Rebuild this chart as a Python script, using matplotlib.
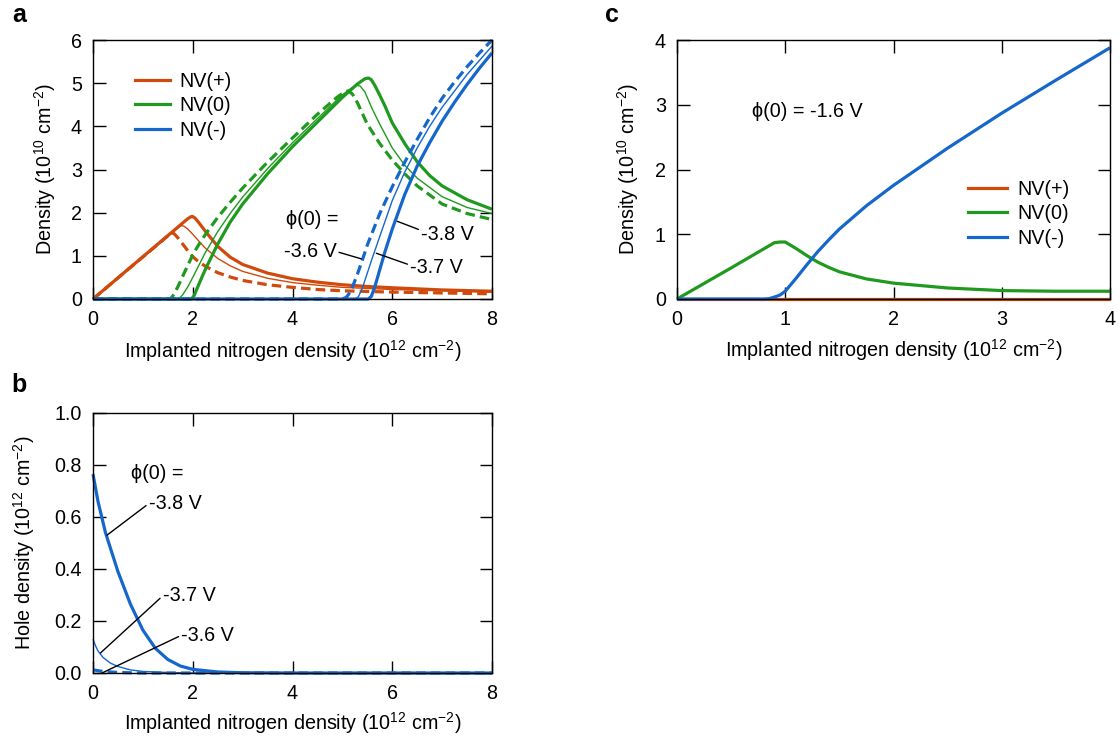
import matplotlib
matplotlib.use('Agg')
import matplotlib.pyplot as plt
from matplotlib.ticker import FormatStrFormatter

plt.rcParams['font.family'] = ['Liberation Sans', 'DejaVu Sans']
plt.rcParams['mathtext.fontset'] = 'custom'
plt.rcParams['mathtext.rm'] = 'Liberation Sans'
plt.rcParams['mathtext.it'] = 'Liberation Sans:italic'
plt.rcParams['mathtext.bf'] = 'Liberation Sans:bold'

# ---------------- data: panel a ----------------
# phi(0) = -3.8 V (thick solid)
a38_pos_x = [0, 1.9, 1.97, 2.0, 2.05, 2.1, 2.2, 2.3, 2.5, 2.75, 3.0, 3.5, 4.0, 4.5, 5.0, 5.5, 6.0, 7.0, 8.0]
a38_pos_y = [0, 1.86, 1.91, 1.91, 1.87, 1.80, 1.65, 1.50, 1.22, 0.97, 0.80, 0.60, 0.47, 0.39, 0.33, 0.29, 0.26, 0.21, 0.18]
a38_zero_x = [0, 1.97, 2.02, 2.1, 2.2, 2.3, 2.5, 2.75, 3.0, 3.5, 4.0, 4.5, 5.0, 5.3, 5.45, 5.52, 5.58, 5.65, 5.75, 5.85, 6.0, 6.25, 6.5, 6.75, 7.0, 7.5, 8.0]
a38_zero_y = [0, 0, 0.06, 0.28, 0.55, 0.8, 1.27, 1.78, 2.2, 2.9, 3.53, 4.1, 4.67, 4.98, 5.1, 5.12, 5.08, 4.95, 4.72, 4.48, 4.08, 3.6, 3.18, 2.86, 2.62, 2.3, 2.08]
a38_neg_x = [0, 5.52, 5.58, 5.65, 5.75, 5.85, 6.0, 6.25, 6.5, 6.75, 7.0, 7.25, 7.5, 7.75, 8.0]
a38_neg_y = [0, 0, 0.06, 0.28, 0.68, 1.08, 1.62, 2.42, 3.08, 3.62, 4.12, 4.56, 4.97, 5.35, 5.7]

# phi(0) = -3.7 V (thin solid)
a37_pos_x = [0, 1.7, 1.76, 1.82, 1.9, 2.0, 2.1, 2.25, 2.5, 2.75, 3.0, 3.5, 4.0, 4.5, 5.0, 6.0, 7.0, 8.0]
a37_pos_y = [0, 1.64, 1.70, 1.69, 1.62, 1.50, 1.37, 1.18, 0.94, 0.77, 0.64, 0.48, 0.38, 0.32, 0.27, 0.22, 0.19, 0.16]
a37_zero_x = [0, 1.72, 1.8, 1.9, 2.0, 2.1, 2.25, 2.5, 2.75, 3.0, 3.5, 4.0, 4.5, 5.0, 5.2, 5.3, 5.36, 5.45, 5.6, 5.75, 6.0, 6.25, 6.5, 7.0, 7.5, 8.0]
a37_zero_y = [0, 0, 0.1, 0.28, 0.5, 0.73, 1.07, 1.56, 1.98, 2.36, 3.02, 3.62, 4.18, 4.73, 4.9, 4.95, 4.93, 4.8, 4.4, 4.05, 3.5, 3.1, 2.8, 2.37, 2.12, 1.98]
a37_neg_x = [0, 5.25, 5.32, 5.4, 5.5, 5.6, 5.75, 6.0, 6.25, 6.5, 6.75, 7.0, 7.5, 8.0]
a37_neg_y = [0, 0, 0.05, 0.25, 0.6, 0.95, 1.45, 2.28, 2.94, 3.5, 4.0, 4.44, 5.2, 5.86]

# phi(0) = -3.6 V (thick dashed)
a36_pos_x = [0, 1.52, 1.57, 1.62, 1.7, 1.8, 1.9, 2.0, 2.1, 2.25, 2.5, 2.75, 3.0, 3.5, 4.0, 4.5, 5.0, 6.0, 7.0, 8.0]
a36_pos_y = [0, 1.48, 1.53, 1.52, 1.42, 1.27, 1.12, 0.98, 0.88, 0.76, 0.61, 0.51, 0.43, 0.33, 0.27, 0.22, 0.19, 0.16, 0.14, 0.12]
a36_zero_x = [0, 1.55, 1.6, 1.7, 1.8, 1.9, 2.0, 2.1, 2.25, 2.5, 2.75, 3.0, 3.5, 4.0, 4.5, 4.9, 5.05, 5.12, 5.2, 5.3, 5.4, 5.5, 5.75, 6.0, 6.25, 6.5, 7.0, 7.5, 8.0]
a36_zero_y = [0, 0, 0.07, 0.28, 0.53, 0.78, 1.02, 1.22, 1.49, 1.89, 2.24, 2.57, 3.17, 3.73, 4.28, 4.68, 4.8, 4.82, 4.75, 4.55, 4.3, 4.05, 3.6, 3.22, 2.9, 2.62, 2.2, 1.98, 1.84]
a36_neg_x = [0, 5.0, 5.08, 5.15, 5.2, 5.3, 5.4, 5.5, 5.75, 6.0, 6.25, 6.5, 6.75, 7.0, 7.25, 7.5, 7.75, 8.0]
a36_neg_y = [0, 0, 0.04, 0.15, 0.27, 0.57, 0.9, 1.25, 1.98, 2.6, 3.17, 3.7, 4.2, 4.65, 5.03, 5.38, 5.7, 6.0]

# ---------------- data: panel b (hole density) ----------------
b38_x = [0, 0.1, 0.25, 0.5, 0.75, 1.0, 1.25, 1.5, 1.75, 2.0, 2.5, 3.0, 4.0, 8.0]
b38_y = [0.765, 0.66, 0.54, 0.39, 0.265, 0.165, 0.095, 0.052, 0.027, 0.014, 0.004, 0.001, 0, 0]
b37_x = [0, 0.05, 0.1, 0.2, 0.35, 0.5, 0.75, 1.0, 1.5, 2.0, 8.0]
b37_y = [0.13, 0.105, 0.085, 0.06, 0.038, 0.025, 0.012, 0.006, 0.002, 0, 0]
b36_x = [0, 0.2, 0.5, 1.0, 8.0]
b36_y = [0.012, 0.006, 0.002, 0, 0]

# ---------------- data: panel c (phi(0) = -1.6 V) ----------------
c_pos_x = [0, 4.0]
c_pos_y = [0, 0]
c_zero_x = [0, 0.5, 0.9, 0.95, 1.0, 1.1, 1.2, 1.3, 1.4, 1.5, 1.75, 2.0, 2.5, 3.0, 3.5, 4.0]
c_zero_y = [0, 0.48, 0.87, 0.88, 0.88, 0.78, 0.67, 0.57, 0.49, 0.42, 0.31, 0.245, 0.17, 0.13, 0.12, 0.12]
c_neg_x = [0, 0.8, 0.85, 0.9, 0.95, 1.0, 1.1, 1.2, 1.3, 1.4, 1.5, 1.75, 2.0, 2.5, 3.0, 3.5, 4.0]
c_neg_y = [0, 0, 0.005, 0.03, 0.06, 0.12, 0.32, 0.53, 0.73, 0.91, 1.08, 1.44, 1.755, 2.33, 2.87, 3.38, 3.88]

legend_labels = ['NV(+)', 'NV(0)', 'NV(-)']
xlabel = 'Implanted nitrogen density (10$^{12}$ cm$^{-2}$)'

ORANGE = '#D04A0C'
GREEN = '#1F9A1F'
BLUE = '#1567CC'
FS = 14.2
THICK = 2.3
THIN = 1.0
DASH = (0, (3.0, 1.6))

fig = plt.figure(figsize=(11.2, 7.42), dpi=100)
W, H = 1120, 742
axa = fig.add_axes([93 / W, 1 - 299 / H, 399 / W, 259 / H])
axb = fig.add_axes([93 / W, 1 - 673 / H, 399 / W, 260 / H])
axc = fig.add_axes([677 / W, 1 - 299 / H, 433 / W, 259 / H])


def style(ax):
    ax.tick_params(direction='in', top=True, right=True, length=9, width=1,
                   labelsize=FS, pad=8, colors='black')
    for s in ax.spines.values():
        s.set_linewidth(1)


def line(ax, x, y, c, lw, ls='-'):
    ax.plot(x, y, color=c, lw=lw, ls=ls, clip_on=False, solid_capstyle='butt')


# ---- panel a ----
style(axa)
line(axa, a36_pos_x, a36_pos_y, ORANGE, THICK, DASH)
line(axa, a37_pos_x, a37_pos_y, ORANGE, THIN)
line(axa, a38_pos_x, a38_pos_y, ORANGE, THICK)
line(axa, a36_zero_x, a36_zero_y, GREEN, THICK, DASH)
line(axa, a37_zero_x, a37_zero_y, GREEN, THIN)
line(axa, a38_zero_x, a38_zero_y, GREEN, THICK)
line(axa, a36_neg_x, a36_neg_y, BLUE, THICK, DASH)
line(axa, a37_neg_x, a37_neg_y, BLUE, THIN)
line(axa, a38_neg_x, a38_neg_y, BLUE, THICK)
axa.set_xlim(0, 8)
axa.set_ylim(0, 6)
axa.set_xticks([0, 2, 4, 6, 8])
axa.set_yticks([0, 1, 2, 3, 4, 5, 6])
axa.set_xlabel(xlabel, fontsize=FS)
axa.set_ylabel('Density (10$^{10}$ cm$^{-2}$)', fontsize=FS)
axa.xaxis.set_label_coords(0.5, -0.15)
axa.yaxis.set_label_coords(-0.088, 0.5)
ha = [plt.Line2D([], [], color=c, lw=THICK) for c in (ORANGE, GREEN, BLUE)]
axa.legend(ha, legend_labels, loc='upper left', bbox_to_anchor=(0.105, 0.878),
           frameon=False, fontsize=FS, handlelength=1.78, handletextpad=0.5,
           labelspacing=0.28, borderpad=0, borderaxespad=0)

akw = dict(fontsize=FS, va='center')
lkw = dict(arrowstyle='-', lw=1, color='black', shrinkA=0, shrinkB=0)
axa.text(3.86, 1.84, 'ϕ(0) =', ha='left', **akw)
axa.annotate('-3.6 V', xy=(5.38, 0.93), xytext=(3.82, 1.1), ha='left',
             arrowprops=dict(relpos=(1, 0.5), **lkw), **akw)
axa.annotate('-3.7 V', xy=(5.68, 1.06), xytext=(6.36, 0.74), ha='left',
             arrowprops=dict(relpos=(0, 0.6), **lkw), **akw)
axa.annotate('-3.8 V', xy=(6.1, 1.8), xytext=(6.58, 1.5), ha='left',
             arrowprops=dict(relpos=(0, 0.7), **lkw), **akw)

# ---- panel b ----
style(axb)
line(axb, b36_x, b36_y, BLUE, THICK, DASH)
line(axb, b37_x, b37_y, BLUE, THIN)
line(axb, b38_x, b38_y, BLUE, THICK)
axb.set_xlim(0, 8)
axb.set_ylim(0, 1.0)
axb.set_xticks([0, 2, 4, 6, 8])
axb.set_yticks([0, 0.2, 0.4, 0.6, 0.8, 1.0])
axb.yaxis.set_major_formatter(FormatStrFormatter('%.1f'))
axb.set_xlabel(xlabel, fontsize=FS)
axb.set_ylabel('Hole density (10$^{12}$ cm$^{-2}$)', fontsize=FS)
axb.xaxis.set_label_coords(0.5, -0.142)
axb.yaxis.set_label_coords(-0.14, 0.5)
axb.text(0.76, 0.767, 'ϕ(0) =', ha='left', **akw)
axb.annotate('-3.8 V', xy=(0.28, 0.53), xytext=(1.12, 0.652), ha='left',
             arrowprops=dict(relpos=(0, 0.5), **lkw), **akw)
axb.annotate('-3.7 V', xy=(0.15, 0.077), xytext=(1.4, 0.297), ha='left',
             arrowprops=dict(relpos=(0, 0.5), **lkw), **akw)
axb.annotate('-3.6 V', xy=(0.18, 0.0), xytext=(1.77, 0.145), ha='left',
             arrowprops=dict(relpos=(0, 0.5), **lkw), **akw)

# ---- panel c ----
style(axc)
line(axc, c_pos_x, c_pos_y, ORANGE, THICK)
line(axc, c_zero_x, c_zero_y, GREEN, THICK)
line(axc, c_neg_x, c_neg_y, BLUE, THICK)
axc.set_xlim(0, 4)
axc.set_ylim(0, 4)
axc.set_xticks([0, 1, 2, 3, 4])
axc.set_yticks([0, 1, 2, 3, 4])
axc.set_xlabel(xlabel, fontsize=FS)
axc.set_ylabel('Density (10$^{10}$ cm$^{-2}$)', fontsize=FS)
axc.xaxis.set_label_coords(0.5, -0.148)
axc.yaxis.set_label_coords(-0.082, 0.5)
axc.text(0.69, 2.9, 'ϕ(0) = -1.6 V', ha='left', **akw)
hc = [plt.Line2D([], [], color=c, lw=THICK) for c in (ORANGE, GREEN, BLUE)]
axc.legend(hc, legend_labels, loc='upper left', bbox_to_anchor=(0.6725, 0.46),
           frameon=False, fontsize=FS, handlelength=1.98, handletextpad=0.5,
           labelspacing=0.28, borderpad=0, borderaxespad=0)

# panel letters
fig.text(19 / W, 1 - 15 / H, 'a', fontsize=18, fontweight='bold', ha='center', va='center')
fig.text(19 / W, 1 - 385 / H, 'b', fontsize=18, fontweight='bold', ha='center', va='center')
fig.text(612 / W, 1 - 15 / H, 'c', fontsize=18, fontweight='bold', ha='center', va='center')

fig.savefig('out.png', dpi=100)
